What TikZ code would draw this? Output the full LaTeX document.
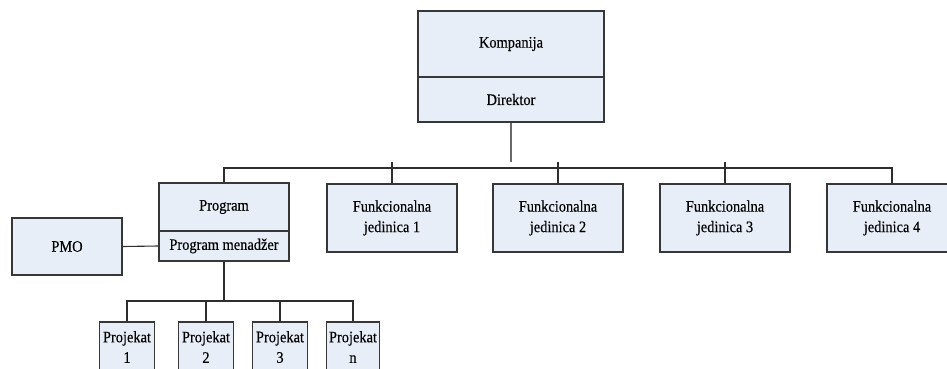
\documentclass[tikz,border=0pt]{standalone}
\usepackage{fontspec}
\setmainfont{Liberation Serif}[FakeStretch=0.9,FakeBold=0.35]
\definecolor{boxfill}{RGB}{232,238,247}
\definecolor{boxline}{RGB}{55,55,55}
\definecolor{wirecol}{RGB}{45,45,45}
\definecolor{stemcol}{RGB}{105,105,105}
\begin{document}
\begin{tikzpicture}[x=1pt,y=-1pt,
  box/.style={draw=boxline, fill=boxfill, line width=1.1pt, inner sep=0pt,
    align=center, font=\fontsize{16}{20.5}\selectfont},
  wire/.style={draw=wirecol, line width=1.1pt},
  stem/.style={draw=stemcol, line width=1.3pt}]
\useasboundingbox (0,0) rectangle (947,369);
\clip (0,0) rectangle (947,369);

% company head
\node[box, minimum width=186, minimum height=66] (komp) at (511,44) {Kompanija};
\node[box, minimum width=186, minimum height=45] (dir) at (511,99.5) {Direktor};

% program block
\node[box, minimum width=130, minimum height=48] (prog) at (224,207) {Program};
\node[box, minimum width=130, minimum height=30] (pm) at (224,246) {Program menadžer};
\node[box, minimum width=110, minimum height=57] (pmo) at (67,246.5) {PMO};

% functional units
\node[box, minimum width=130, minimum height=68] (f1) at (392,218) {Funkcionalna\\jedinica 1};
\node[box, minimum width=130, minimum height=68] (f2) at (558,218) {Funkcionalna\\jedinica 2};
\node[box, minimum width=130, minimum height=68] (f3) at (725,218) {Funkcionalna\\jedinica 3};
\node[box, minimum width=130, minimum height=68] (f4) at (892,218) {Funkcionalna\\jedinica 4};

% projects
\node[box, minimum width=55, minimum height=50] (p1) at (127,347) {Projekat\\1};
\node[box, minimum width=55, minimum height=50] (p2) at (206,347) {Projekat\\2};
\node[box, minimum width=55, minimum height=50] (p3) at (280,347) {Projekat\\3};
\node[box, minimum width=53, minimum height=50] (pn) at (353,347) {Projekat\\n};

\coordinate (bus) at (512,168);
\coordinate (tick) at (512,162);
\coordinate (sub) at (224,301);

% director stem
\draw[stem] (dir.south) -- (dir.south |- tick);

% main bus
\draw[wire] (prog.north) |- (f4.north |- bus) -- (f4.north);
\foreach \f in {f1,f2,f3}
  \draw[wire] (\f.north) -- (\f.north |- tick);

% PMO link
\draw[wire] (pmo.east) -- (pm.west);

% project bus
\draw[wire] (pm.south) -- (sub);
\draw[wire] (p1.north) |- (pn.north |- sub) -- (pn.north);
\foreach \p in {p2,p3}
  \draw[wire] (\p.north) -- (\p.north |- sub);
\end{tikzpicture}
\end{document}
